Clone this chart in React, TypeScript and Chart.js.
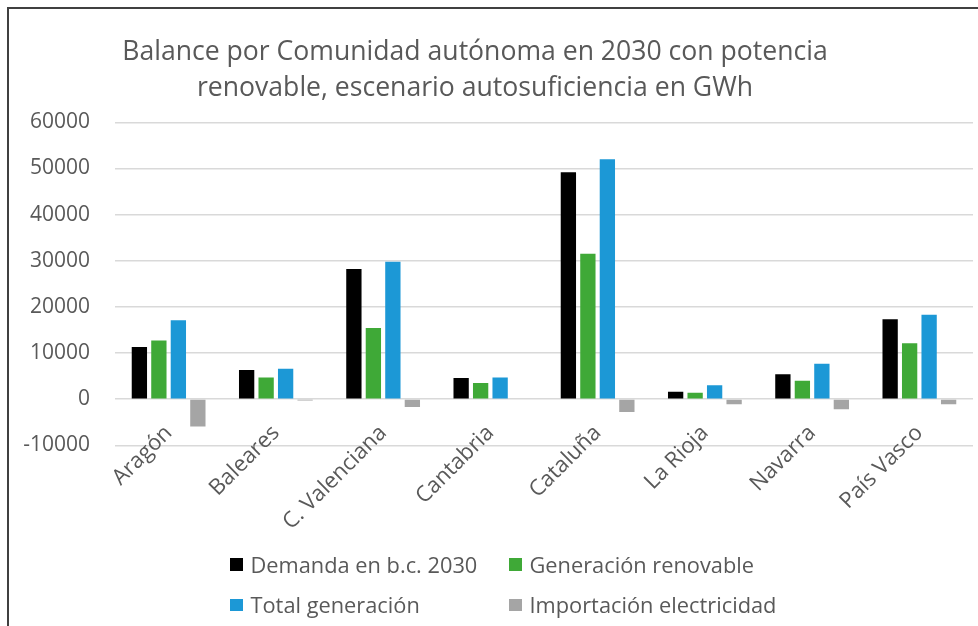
import React, { useEffect, useRef } from "react";
import { Chart, registerables } from "chart.js";

Chart.register(...registerables);

const titleLines = [
  "Balance por Comunidad autónoma en 2030 con potencia",
  "renovable, escenario autosuficiencia en GWh",
];

const categories = [
  "Aragón",
  "Baleares",
  "C. Valenciana",
  "Cantabria",
  "Cataluña",
  "La Rioja",
  "Navarra",
  "País Vasco",
];

const demanda = [11300, 6300, 28200, 4600, 49200, 1600, 5400, 17300];
const renovable = [12700, 4700, 15400, 3500, 31500, 1400, 4000, 12100];
const totalGeneracion = [17100, 6600, 29800, 4700, 52000, 3000, 7700, 18300];
const importacion = [-5900, -300, -1700, 0, -2800, -1100, -2200, -1100];

const seriesNames = [
  "Demanda en b.c. 2030",
  "Generación renovable",
  "Total generación",
  "Importación electricidad",
];
const seriesColors = ["#000000", "#3fa937", "#1c98d6", "#a5a5a5"];

const yMin = -10000;
const yMax = 60000;
const yStep = 10000;

const FONT = "'Open Sans', 'DejaVu Sans', sans-serif";
const TEXT = "#595959";

const titleShift = {
  id: "titleShift",
  afterLayout(chart: any) {
    const t = chart.titleBlock;
    if (t) {
      t.left = 0;
      t.right = 950;
    }
  },
};

export default function App() {
  const ref = useRef<HTMLCanvasElement | null>(null);

  useEffect(() => {
    if (!ref.current) return;
    const values = [demanda, renovable, totalGeneracion, importacion];
    const chart = new Chart(ref.current, {
      type: "bar",
      data: {
        labels: categories,
        datasets: values.map((d, i) => ({
          label: seriesNames[i],
          data: d,
          backgroundColor: seriesColors[i],
          borderWidth: 0,
          categoryPercentage: 0.727,
          barPercentage: 0.785,
        })),
      },
      options: {
        responsive: false,
        animation: false,
        devicePixelRatio: 1,
        layout: { padding: { top: 0, left: 0, right: 5, bottom: 180.7 } },
        plugins: {
          legend: { display: false },
          tooltip: { enabled: false },
          title: {
            display: true,
            text: titleLines,
            color: TEXT,
            font: { family: FONT, size: 26.6, weight: "normal", lineHeight: 36 / 26.6 },
            padding: { top: 34, bottom: 16.3 },
          },
        },
        scales: {
          x: {
            type: "category",
            position: { y: 0 } as any,
            grid: { display: false, drawTicks: false },
            border: { display: false },
            ticks: {
              minRotation: 45,
              maxRotation: 45,
              autoSkip: false,
              padding: 21,
              color: TEXT,
              font: { family: FONT, size: 22 },
            },
          },
          y: {
            min: yMin,
            max: yMax,
            grid: { color: "#d9d9d9", lineWidth: 1.4, drawTicks: false },
            border: { display: false },
            afterFit(scale: any) {
              scale.width = 115;
            },
            ticks: {
              stepSize: yStep,
              padding: 25,
              color: TEXT,
              font: { family: FONT, size: 21 },
              callback: (v: any) => String(v),
            },
          },
        },
      },
      plugins: [titleShift],
    });
    return () => chart.destroy();
  }, []);

  return (
    <div
      style={{
        position: "fixed",
        left: 0,
        top: 0,
        width: 978,
        height: 626,
        overflow: "hidden",
        background: "#ffffff",
      }}
    >
      <div
        style={{
          position: "absolute",
          left: 7,
          top: 7,
          width: 1000,
          height: 700,
          borderLeft: "2px solid #404040",
          borderTop: "2px solid #404040",
          boxSizing: "border-box",
        }}
      />
      <canvas
        ref={ref}
        width={978}
        height={626}
        style={{ position: "absolute", left: 0, top: 0, width: 978, height: 626 }}
      />
      <div
        style={{
          position: "absolute",
          left: 230,
          top: 544,
          display: "grid",
          gridTemplateColumns: "279px 279px",
          gridAutoRows: "40.5px",
          fontFamily: FONT,
          fontSize: 21.8,
          color: TEXT,
        }}
      >
        {seriesNames.map((name, i) => (
          <div key={name} style={{ display: "flex", alignItems: "center", whiteSpace: "nowrap" }}>
            <span
              style={{
                display: "inline-block",
                width: 12.5,
                height: 12.5,
                background: seriesColors[i],
                marginRight: 8,
              }}
            />
            <span>{name}</span>
          </div>
        ))}
      </div>
    </div>
  );
}
